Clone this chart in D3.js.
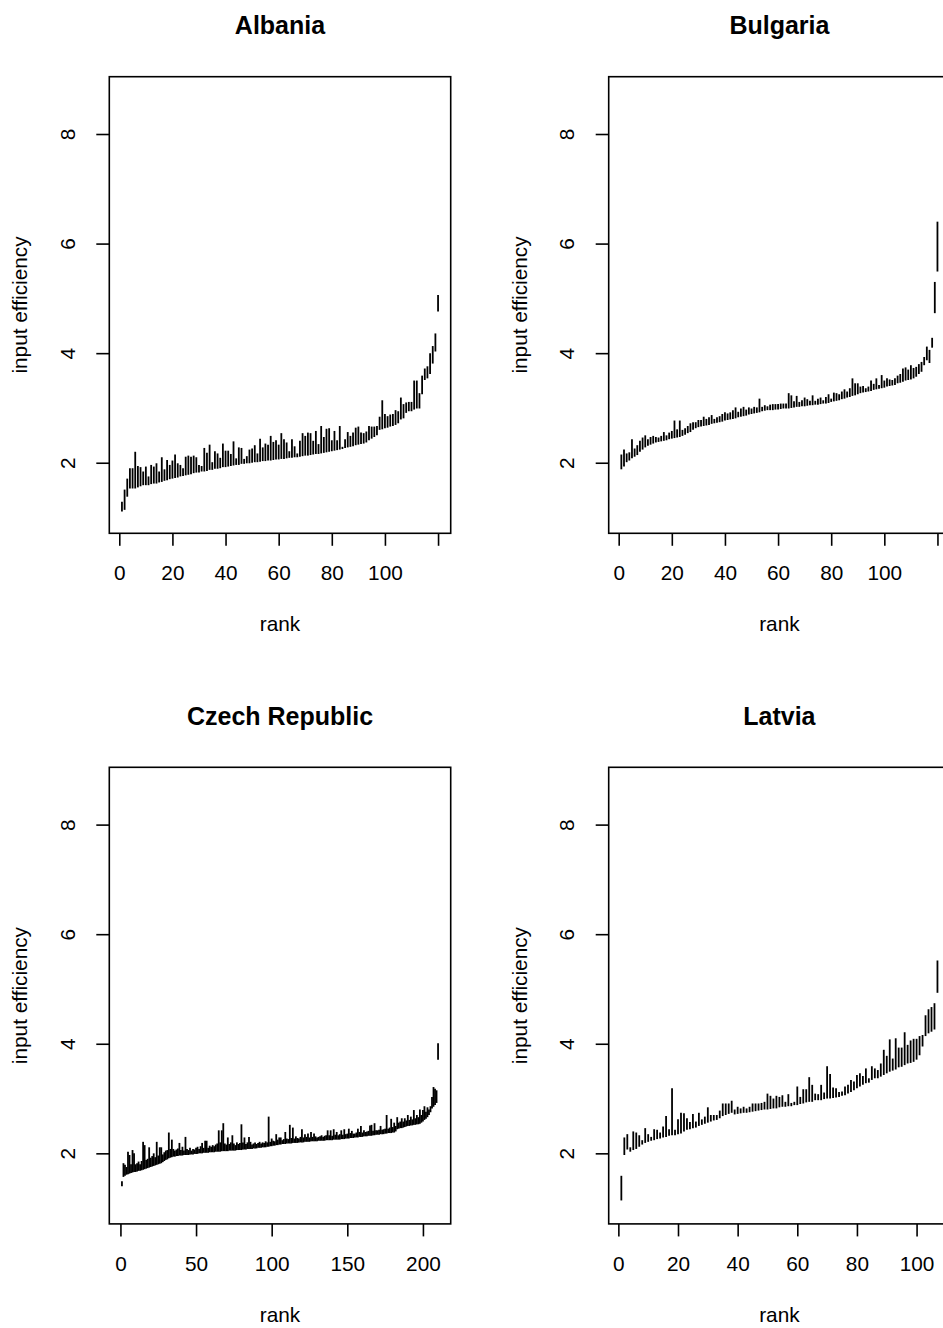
<!DOCTYPE html>
<html><head><meta charset="utf-8">
<script src="https://cdn.jsdelivr.net/npm/d3@7"></script>
<style>
body{margin:0;background:#fff}
svg{display:block}
text{font-family:"Liberation Sans",Arial,Helvetica,sans-serif;fill:#000}
</style>
</head><body>
<svg id="c" width="943" height="1328"></svg>
<script>
// ---- data: lower and upper bound of each interval, ordered by rank ----
const albaniaLo = [1.11,1.14,1.38,1.53,1.53,1.53,1.55,1.57,1.59,1.59, 1.59,1.61,1.62,1.62,1.64,1.65,1.67,1.68,1.70,1.71, 1.72,1.73,1.75,1.76,1.77,1.78,1.79,1.81,1.82,1.82, 1.84,1.84,1.85,1.87,1.87,1.89,1.89,1.90,1.92,1.92, 1.93,1.94,1.95,1.96,1.96,1.98,1.98,1.99,1.99,2.00, 2.01,2.01,2.02,2.03,2.03,2.04,2.04,2.05,2.06,2.06, 2.07,2.07,2.08,2.09,2.09,2.10,2.10,2.11,2.12,2.13, 2.13,2.14,2.15,2.16,2.16,2.17,2.18,2.19,2.20,2.21, 2.22,2.23,2.24,2.25,2.27,2.28,2.29,2.30,2.32,2.33, 2.34,2.35,2.37,2.41,2.44,2.47,2.50,2.60,2.61,2.63, 2.64,2.66,2.67,2.69,2.72,2.79,2.81,2.91,2.94,2.94, 2.97,2.99,2.99,3.25,3.51,3.54,3.62,3.81,4.03,4.76];
const albaniaHi = [1.29,1.51,1.71,1.90,1.90,2.20,1.94,1.92,1.84,1.93, 1.75,1.96,1.93,1.99,1.84,2.10,1.88,2.05,1.96,2.04, 2.15,1.99,1.96,1.90,2.11,2.13,2.11,2.13,2.10,1.96, 1.94,2.27,2.18,2.33,2.01,2.21,2.17,2.09,2.35,2.22, 2.22,2.16,2.39,2.08,2.28,2.27,2.07,2.12,2.24,2.26, 2.32,2.17,2.44,2.28,2.35,2.33,2.49,2.38,2.41,2.33, 2.54,2.43,2.37,2.21,2.43,2.30,2.17,2.40,2.54,2.49, 2.55,2.54,2.40,2.58,2.34,2.67,2.47,2.62,2.63,2.41, 2.58,2.41,2.67,2.29,2.43,2.56,2.49,2.55,2.64,2.66, 2.55,2.54,2.57,2.67,2.66,2.66,2.67,2.84,3.14,2.89, 2.85,2.88,2.89,2.96,2.94,3.19,3.07,3.10,3.11,3.11, 3.50,3.50,3.27,3.59,3.72,3.76,4.00,4.13,4.36,5.06];

const bulgariaLo = [1.88,1.93,2.01,2.04,2.08,2.11,2.14,2.20,2.24,2.28, 2.31,2.33,2.35,2.37,2.38,2.39,2.40,2.41,2.43,2.44, 2.45,2.46,2.47,2.49,2.51,2.54,2.56,2.60,2.63,2.65, 2.66,2.67,2.68,2.69,2.71,2.72,2.73,2.74,2.75,2.77, 2.78,2.79,2.80,2.81,2.83,2.84,2.85,2.86,2.88,2.89, 2.90,2.91,2.92,2.94,2.95,2.96,2.96,2.96,2.97,2.97, 2.98,2.99,2.99,2.99,3.00,3.01,3.02,3.02,3.03,3.03, 3.04,3.05,3.05,3.06,3.06,3.07,3.08,3.08,3.09,3.11, 3.12,3.13,3.14,3.16,3.17,3.19,3.20,3.22,3.23,3.25, 3.27,3.28,3.29,3.30,3.31,3.33,3.34,3.35,3.36,3.37, 3.39,3.40,3.41,3.42,3.45,3.46,3.48,3.50,3.51,3.52, 3.54,3.57,3.62,3.66,3.78,3.87,3.82,4.10,4.73,5.49];
const bulgariaHi = [2.15,2.24,2.17,2.19,2.43,2.26,2.32,2.40,2.46,2.50, 2.43,2.47,2.49,2.47,2.46,2.49,2.56,2.50,2.55,2.58, 2.77,2.61,2.77,2.60,2.63,2.67,2.72,2.74,2.74,2.78, 2.78,2.84,2.80,2.83,2.87,2.80,2.83,2.85,2.89,2.92, 2.90,2.92,2.96,3.01,2.93,2.99,3.02,2.97,3.01,2.99, 3.02,3.01,3.17,3.02,3.05,3.03,3.06,3.07,3.07,3.07, 3.08,3.08,3.08,3.27,3.23,3.12,3.22,3.11,3.14,3.19, 3.16,3.13,3.23,3.13,3.17,3.19,3.14,3.20,3.25,3.17, 3.28,3.27,3.25,3.30,3.34,3.30,3.36,3.54,3.45,3.45, 3.39,3.40,3.36,3.39,3.50,3.44,3.54,3.42,3.60,3.50, 3.54,3.52,3.51,3.54,3.59,3.62,3.72,3.74,3.70,3.78, 3.73,3.75,3.80,3.84,3.93,4.12,4.06,4.28,5.30,6.40];

const czechLo = [1.40,1.57,1.59,1.61,1.62,1.63,1.64,1.65,1.66,1.66, 1.67,1.68,1.68,1.69,1.70,1.71,1.72,1.73,1.74,1.75, 1.76,1.77,1.78,1.79,1.80,1.81,1.82,1.84,1.86,1.88, 1.89,1.91,1.92,1.93,1.94,1.94,1.95,1.95,1.96,1.96, 1.96,1.97,1.97,1.97,1.97,1.98,1.98,1.98,1.99,1.99, 1.99,2.00,2.00,2.00,2.01,2.01,2.01,2.01,2.02,2.02, 2.02,2.02,2.03,2.03,2.03,2.03,2.04,2.04,2.04,2.04, 2.04,2.05,2.05,2.05,2.05,2.05,2.06,2.06,2.06,2.06, 2.07,2.07,2.07,2.08,2.08,2.08,2.08,2.09,2.09,2.09, 2.10,2.10,2.10,2.11,2.11,2.11,2.12,2.12,2.13,2.13, 2.14,2.14,2.15,2.15,2.16,2.16,2.17,2.17,2.17,2.18, 2.18,2.18,2.18,2.19,2.19,2.19,2.19,2.20,2.20,2.20, 2.20,2.21,2.21,2.21,2.21,2.22,2.22,2.22,2.22,2.22, 2.23,2.23,2.23,2.23,2.23,2.24,2.24,2.24,2.24,2.24, 2.25,2.25,2.25,2.25,2.25,2.26,2.26,2.26,2.27,2.27, 2.27,2.28,2.28,2.28,2.29,2.29,2.29,2.30,2.30,2.30, 2.31,2.31,2.31,2.32,2.32,2.32,2.33,2.33,2.34,2.34, 2.34,2.35,2.35,2.35,2.36,2.36,2.37,2.37,2.37,2.38, 2.38,2.40,2.44,2.45,2.46,2.46,2.47,2.48,2.49,2.50, 2.50,2.51,2.51,2.52,2.52,2.53,2.53,2.54,2.56,2.58, 2.61,2.63,2.66,2.70,2.75,2.82,2.85,2.88,2.92,3.71];
const czechHi = [1.49,1.82,1.79,1.75,2.03,1.97,1.80,2.06,2.00,1.80, 1.82,1.85,1.80,1.86,2.21,2.15,1.88,1.90,2.11,1.92, 1.95,2.00,1.93,2.21,1.96,2.11,2.11,1.98,2.02,2.05, 2.06,2.38,2.08,2.25,2.08,2.05,2.07,2.09,2.19,2.06, 2.12,2.05,2.30,2.08,2.06,2.10,2.05,2.08,2.07,2.10, 2.12,2.08,2.13,2.19,2.10,2.23,2.23,2.10,2.14,2.12, 2.15,2.13,2.16,2.18,2.42,2.20,2.42,2.55,2.18,2.16, 2.29,2.17,2.20,2.33,2.18,2.15,2.20,2.17,2.19,2.53, 2.20,2.29,2.17,2.20,2.30,2.21,2.16,2.18,2.20,2.17, 2.19,2.21,2.18,2.20,2.19,2.22,2.20,2.67,2.21,2.27, 2.23,2.22,2.35,2.25,2.29,2.29,2.24,2.26,2.39,2.27, 2.26,2.52,2.28,2.47,2.27,2.31,2.28,2.27,2.30,2.44, 2.29,2.35,2.30,2.36,2.29,2.39,2.30,2.36,2.31,2.29, 2.30,2.31,2.33,2.30,2.32,2.33,2.42,2.33,2.42,2.32, 2.44,2.34,2.39,2.33,2.35,2.42,2.34,2.44,2.35,2.36, 2.45,2.37,2.41,2.36,2.36,2.38,2.45,2.39,2.50,2.38, 2.42,2.39,2.40,2.41,2.51,2.52,2.41,2.55,2.42,2.42, 2.43,2.50,2.43,2.44,2.45,2.70,2.45,2.47,2.63,2.48, 2.56,2.50,2.66,2.56,2.58,2.64,2.58,2.64,2.60,2.70, 2.61,2.67,2.62,2.79,2.64,2.70,2.66,2.80,2.70,2.79, 2.86,2.76,2.84,2.80,2.86,3.03,3.21,3.18,3.15,4.01];

const latviaLo = [1.14,1.97,2.07,2.03,2.06,2.08,2.12,2.16,2.19,2.21, 2.23,2.24,2.26,2.27,2.29,2.30,2.32,2.33,2.33,2.35, 2.36,2.40,2.43,2.44,2.46,2.47,2.50,2.52,2.54,2.56, 2.58,2.60,2.61,2.64,2.68,2.70,2.72,2.74,2.71,2.72, 2.73,2.74,2.74,2.75,2.76,2.77,2.78,2.79,2.80,2.80, 2.81,2.82,2.82,2.84,2.85,2.85,2.86,2.86,2.88,2.88, 2.90,2.91,2.93,2.94,2.94,2.97,2.97,2.97,2.99,3.00, 3.00,3.01,3.02,3.03,3.05,3.06,3.09,3.12,3.15,3.19, 3.22,3.25,3.28,3.29,3.34,3.37,3.37,3.40,3.43,3.46, 3.49,3.51,3.53,3.57,3.58,3.61,3.64,3.65,3.67,3.71, 3.79,3.95,4.14,4.19,4.22,4.26,4.93];
const latviaHi = [1.59,2.29,2.35,2.11,2.40,2.38,2.33,2.24,2.46,2.35, 2.30,2.44,2.43,2.38,2.49,2.68,2.44,3.19,2.43,2.62, 2.74,2.73,2.64,2.57,2.72,2.58,2.74,2.62,2.67,2.84, 2.70,2.70,2.70,2.78,2.91,2.91,2.91,2.96,2.80,2.85, 2.82,2.85,2.82,2.85,2.91,2.91,2.91,2.92,2.94,3.09, 3.05,3.00,3.05,3.03,3.06,2.94,3.08,2.92,2.94,3.22, 3.03,3.17,3.17,3.39,3.25,3.09,3.08,3.25,3.11,3.59, 3.45,3.20,3.19,3.12,3.13,3.22,3.25,3.34,3.31,3.43, 3.46,3.41,3.55,3.37,3.59,3.55,3.52,3.64,3.89,3.78, 4.08,3.73,4.10,3.93,3.93,4.21,3.98,4.06,4.09,4.09, 4.14,4.16,4.52,4.63,4.67,4.74,5.52];

const titles = ["Albania","Bulgaria","Czech Republic","Latvia"];
const xTickValues = [[0,20,40,60,80,100,120],[0,20,40,60,80,100,120],[0,50,100,150,200],[0,20,40,60,80,100]];
const xTickLabels = [["0","20","40","60","80","100",""],["0","20","40","60","80","100",""],["0","50","100","150","200"],["0","20","40","60","80","100"]];
const yTickValues = [2,4,6,8];
const xTitle = "rank", yTitle = "input efficiency";

// ---- layout ----
const svg = d3.select("#c");
const boxW = 341.4, boxH = 456.6;
const lefts = [109.3, 608.7], tops = [76.7, 767.3];
const yDomain = [0.712, 9.046];
const lows = [albaniaLo, bulgariaLo, czechLo, latviaLo];
const highs = [albaniaHi, bulgariaHi, czechHi, latviaHi];
const AX = 20.8, TI = 25;

titles.forEach((t, k) => {
  const L = lefts[k % 2], T = tops[Math.floor(k / 2)];
  const lo = lows[k], hi = highs[k], n = lo.length;
  const ext = 0.04 * (n - 1);
  const x = d3.scaleLinear().domain([1 - ext, n + ext]).range([L, L + boxW]);
  const y = d3.scaleLinear().domain(yDomain).range([T + boxH, T]);
  const g = svg.append("g");

  // intervals
  g.append("g").selectAll("line").data(d3.range(n)).join("line")
    .attr("x1", i => x(i + 1)).attr("x2", i => x(i + 1))
    .attr("y1", i => y(lo[i])).attr("y2", i => y(hi[i]))
    .attr("stroke", "#000").attr("stroke-width", 1.8);

  // box
  g.append("rect").attr("x", L).attr("y", T).attr("width", boxW).attr("height", boxH)
    .attr("fill", "none").attr("stroke", "#000").attr("stroke-width", 1.6);

  // x axis
  const xa = g.append("g").attr("transform", `translate(0,${T + boxH})`)
    .call(d3.axisBottom(x).tickValues(xTickValues[k]).tickSize(12.5)
      .tickFormat((d, i) => xTickLabels[k][i]));
  xa.select(".domain").remove();
  xa.selectAll(".tick line").attr("stroke", "#000").attr("stroke-width", 1.6);
  xa.selectAll(".tick text").attr("y", 46.7).attr("dy", null)
    .style("font-size", AX + "px").style("font-family", '"Liberation Sans",Arial,sans-serif').attr("fill", "#000");

  // y axis
  const ya = g.append("g").attr("transform", `translate(${L},0)`)
    .call(d3.axisLeft(y).tickValues(yTickValues).tickSize(13).tickFormat(d3.format("d")));
  ya.select(".domain").remove();
  ya.selectAll(".tick line").attr("stroke", "#000").attr("stroke-width", 1.6);
  ya.selectAll(".tick text").attr("x", null).attr("dy", null).attr("text-anchor", "middle")
    .attr("transform", "translate(-34.3,0) rotate(-90)")
    .style("font-size", AX + "px").style("font-family", '"Liberation Sans",Arial,sans-serif').attr("fill", "#000");

  // titles
  g.append("text").attr("x", L + boxW / 2).attr("y", T - 42.3).attr("text-anchor", "middle")
    .style("font-size", TI + "px").style("font-weight", "bold").text(t);
  g.append("text").attr("x", L + boxW / 2).attr("y", T + boxH + 97.7).attr("text-anchor", "middle")
    .style("font-size", AX + "px").text(xTitle);
  g.append("text").attr("transform", `translate(${L - 82},${T + boxH / 2}) rotate(-90)`)
    .attr("text-anchor", "middle").style("font-size", AX + "px").text(yTitle);
});
</script>
</body></html>
